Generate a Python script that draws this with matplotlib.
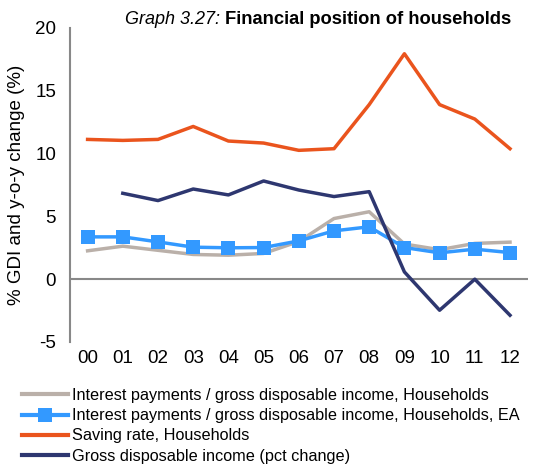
import matplotlib
matplotlib.use("Agg")
import matplotlib.pyplot as plt
from matplotlib.lines import Line2D

plt.rcParams['font.family'] = ['Liberation Sans', 'DejaVu Sans']

years = ["00", "01", "02", "03", "04", "05", "06", "07", "08", "09", "10", "11", "12"]
interest_hh = [2.26, 2.63, 2.3, 1.97, 1.91, 2.05, 3.0, 4.83, 5.37, 2.8, 2.35, 2.85, 2.95]
interest_hh_ea = [3.37, 3.37, 2.97, 2.55, 2.5, 2.52, 3.05, 3.85, 4.17, 2.52, 2.1, 2.39, 2.12]
saving_rate = [11.13, 11.05, 11.13, 12.16, 11.0, 10.84, 10.26, 10.39, 13.9, 17.95, 13.9, 12.75, 10.39]
gdi_change = [None, 6.84, 6.26, 7.18, 6.71, 7.82, 7.1, 6.58, 6.97, 0.58, -2.47, 0.0, -2.87]

labels = [
    "Interest payments / gross disposable income, Households",
    "Interest payments / gross disposable income, Households, EA",
    "Saving rate, Households",
    "Gross disposable income (pct change)",
]

c_gray = "#BAB0A9"
c_blue = "#3399FF"
c_orange = "#EA541D"
c_navy = "#2E3770"

fig = plt.figure(figsize=(5.44, 4.68), dpi=100)
ax = fig.add_axes([70 / 544, 1 - 342 / 468, (527.6 - 70) / 544, (342 - 28) / 468])

x = list(range(len(years)))
gx = [i for i, v in zip(x, gdi_change) if v is not None]
gy = [v for v in gdi_change if v is not None]

ax.plot(x, interest_hh, color=c_gray, lw=2.5, solid_joinstyle="round", zorder=3)
ax.plot(x, interest_hh_ea, color=c_blue, lw=2.5, marker="s", ms=10,
        markeredgewidth=0, zorder=4)
ax.plot(x, saving_rate, color=c_orange, lw=2.5, zorder=3)
ax.plot(gx, gy, color=c_navy, lw=2.5, zorder=5)

ax.set_xlim(-0.5, len(years) - 0.5)
ax.set_ylim(-5, 20)
ax.set_yticks([-5, 0, 5, 10, 15, 20])
ax.set_yticklabels(["-5", "0", "5", "10", "15", "20"])
ax.set_xticks(x)
ax.set_xticklabels(years)

for s in ["top", "right", "bottom"]:
    ax.spines[s].set_visible(False)
ax.spines["left"].set_color("#888888")
ax.spines["left"].set_linewidth(1.5)
ax.axhline(0, color="#888888", lw=1.5, zorder=2)

ax.tick_params(axis="y", length=0, pad=10, labelsize=13.5, colors="black")
ax.tick_params(axis="x", length=0, pad=6, labelsize=13.5)

ax.set_ylabel("% GDI and y-o-y change (%)", fontsize=13.5, labelpad=7)

fig.text(220 / 544, 1 - 20 / 468, "Graph 3.27:", fontsize=13, style="italic",
         ha="right", va="center")
fig.text(225 / 544, 1 - 20 / 468, "Financial position of households", fontsize=13.2,
         weight="bold", ha="left", va="center")

handles = [
    Line2D([], [], color=c_gray, lw=3),
    Line2D([], [], color=c_blue, lw=3, marker="s", ms=9.5, markeredgewidth=0),
    Line2D([], [], color=c_orange, lw=3),
    Line2D([], [], color=c_navy, lw=3),
]
fig.legend(handles, labels, loc="upper left", bbox_to_anchor=(22 / 544, 1 - 388 / 468),
           frameon=False, fontsize=11.7, handlelength=2.85, handletextpad=0.25,
           labelspacing=0.32, borderaxespad=0, borderpad=0)

fig.savefig("out.png", dpi=100)
